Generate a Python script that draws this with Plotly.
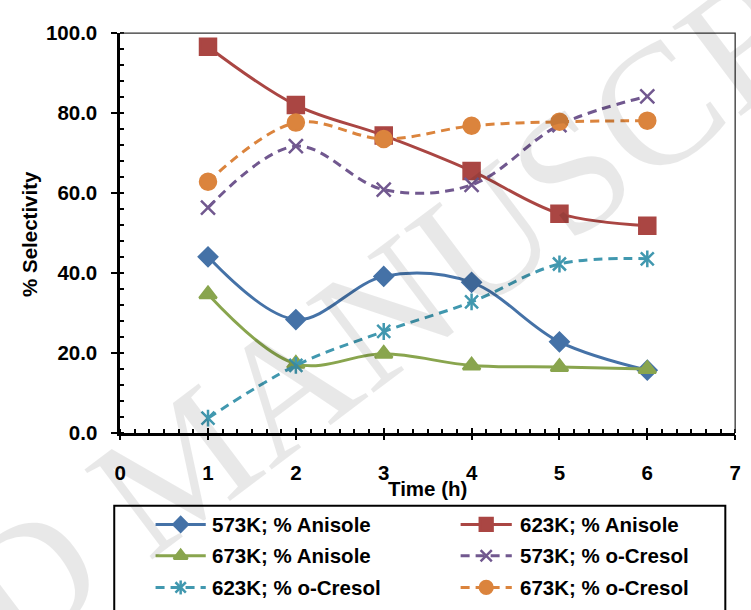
import plotly.graph_objects as go

# ---- data -------------------------------------------------------------
time_h = [1, 2, 3, 4, 5, 6]

anisole_573 = [44.0, 28.3, 39.1, 37.6, 22.7, 15.6]
anisole_623 = [96.6, 82.0, 74.4, 65.5, 54.8, 51.8]
anisole_673 = [34.6, 17.2, 19.7, 16.8, 16.4, 15.9]
cresol_573 = [56.3, 71.7, 60.8, 62.0, 77.0, 84.2]
cresol_623 = [3.6, 16.8, 25.3, 32.7, 42.2, 43.5]
cresol_673 = [62.8, 77.6, 73.5, 76.8, 77.8, 78.1]

series_names = [
    "573K; % Anisole", "623K; % Anisole",
    "673K; % Anisole", "573K; % o-Cresol",
    "623K; % o-Cresol", "673K; % o-Cresol",
]
series_values = [anisole_573, anisole_623, anisole_673,
                 cresol_573, cresol_623, cresol_673]

x_ticks = [0, 1, 2, 3, 4, 5, 6, 7]
y_ticks = [0, 20, 40, 60, 80, 100]

# ---- styling ------------------------------------------------------------
W, H = 751, 610
colors = ["#4572A7", "#AA4643", "#89A54E", "#71588F", "#4198AF", "#DB843D"]
symbols = ["diamond", "square", "triangle-up", "x-thin", "x-thin", "circle"]
sizes = [14, 16, 15, 14, 13, 16]
# the 623K o-Cresol star gets an extra vertical bar on top of its "x"
star_bar = [False, False, False, False, True, False]
dashes = ["solid", "solid", "solid", "9px,6px", "9px,6px", "9px,6px"]

# plot box in pixels
PL, PR, PT, PB = 116, 741, 22, 437

def px(x):
    return x / W

def py(y):
    return 1 - y / H

FONT = "Liberation Sans, Arial, sans-serif"
FS = 20.5

fig = go.Figure()

for name, vals, c, sym, sz, dsh, bar in zip(series_names, series_values, colors,
                                              symbols, sizes, dashes, star_bar):
    fig.add_trace(go.Scatter(
        x=time_h, y=vals, name=name, mode="lines+markers",
        line=dict(color=c, width=3, dash=dsh, shape="spline", smoothing=1),
        marker=dict(symbol=sym, size=sz, color=c, opacity=1,
                    line=dict(color=c, width=2.5)),
        showlegend=False, xaxis="x", yaxis="y",
    ))
    if bar:
        fig.add_trace(go.Scatter(
            x=time_h, y=vals, mode="markers", hoverinfo="skip",
            marker=dict(symbol="line-ns", size=12, color=c,
                        line=dict(color=c, width=2.5)),
            showlegend=False, xaxis="x", yaxis="y",
        ))

# ---- custom legend (drawn on a pixel-unit helper axis) ------------------
leg_rows = [532.5, 565, 598]
leg_cols = [(152, 203, 207), (462, 514, 520)]
for i, (name, c, sym, sz, dsh, bar) in enumerate(zip(series_names, colors,
                                                      symbols, sizes, dashes,
                                                      star_bar)):
    r, col = divmod(i, 2)
    x0, x1, tx = leg_cols[col]
    yy = leg_rows[r]
    xm = (x0 + x1) / 2
    fig.add_trace(go.Scatter(
        x=[x0, x1], y=[yy, yy], mode="lines",
        line=dict(color=c, width=3, dash=dsh),
        showlegend=False, hoverinfo="skip", xaxis="x3", yaxis="y3",
    ))
    fig.add_trace(go.Scatter(
        x=[xm], y=[yy], mode="markers",
        marker=dict(symbol=sym, size=sz * 0.8, color=c, opacity=1,
                    line=dict(color=c, width=2.5)),
        showlegend=False, hoverinfo="skip", xaxis="x3", yaxis="y3",
    ))
    if bar:
        fig.add_trace(go.Scatter(
            x=[xm], y=[yy], mode="markers",
            marker=dict(symbol="line-ns", size=10, color=c,
                        line=dict(color=c, width=2.5)),
            showlegend=False, hoverinfo="skip", xaxis="x3", yaxis="y3",
        ))
    fig.add_annotation(x=px(tx), y=py(yy), xref="paper", yref="paper",
                       text=name, showarrow=False, xanchor="left",
                       yanchor="middle",
                       font=dict(family=FONT, size=FS, color="black",
                                 weight="bold"))

# legend frame (bottom edge falls outside the page)
fig.add_shape(type="rect", xref="paper", yref="paper",
              x0=px(110), x1=px(731), y0=py(640), y1=py(513),
              line=dict(color="black", width=2))

# thin top/right frame of the plot box
fig.add_shape(type="path", xref="paper", yref="paper",
              path=f"M {px(PL)} {py(PT)} L {px(PR)} {py(PT)} L {px(PR)} {py(PB)}",
              line=dict(color="#333333", width=1.3))

# axis titles
fig.add_annotation(x=px(24), y=py(231), xref="paper", yref="paper",
                   text="% Selectivity", textangle=-90, showarrow=False,
                   xanchor="center", yanchor="middle",
                   font=dict(family=FONT, size=FS, color="black", weight="bold"))
fig.add_annotation(x=px(428), y=py(495), xref="paper", yref="paper",
                   text="Time (h)", showarrow=False,
                   xanchor="center", yanchor="middle",
                   font=dict(family=FONT, size=FS, color="black", weight="bold"))

# watermark
fig.add_annotation(x=px(181), y=py(469), xref="paper", yref="paper",
                   text="ACCEPTED MANUSCRIPT", textangle=-37, showarrow=False,
                   xanchor="center", yanchor="middle",
                   font=dict(family="Liberation Serif, Times New Roman, serif",
                             size=172, color="rgba(0,0,0,0.09)"))

xdom = [px(PL), px(PR)]
ydom = [py(PB), py(PT)]
tickfont = dict(family=FONT, size=FS, color="black", weight="bold")

fig.update_layout(
    width=W, height=H, margin=dict(l=0, r=0, t=0, b=0),
    paper_bgcolor="white", plot_bgcolor="rgba(0,0,0,0)",
    showlegend=False,
    xaxis=dict(domain=xdom, range=[0, 7], tickvals=x_ticks,
               ticktext=[str(v) for v in x_ticks],
               ticks="outside", ticklen=5, tickwidth=2, tickcolor="black",
               minor=dict(dtick=1 / 6, tick0=0, ticks="inside", ticklen=4,
                          tickwidth=2, tickcolor="black"),
               showline=True, linecolor="black", linewidth=2.5,
               showgrid=False, zeroline=False, tickfont=tickfont,
               ticklabelstandoff=15, anchor="y"),
    yaxis=dict(domain=ydom, range=[0, 100], tickvals=y_ticks,
               tickformat=".1f",
               ticks="outside", ticklen=6, tickwidth=2, tickcolor="black",
               minor=dict(dtick=4, tick0=0, ticks="inside", ticklen=4,
                          tickwidth=2, tickcolor="black"),
               showline=True, linecolor="black", linewidth=2.5,
               showgrid=False, zeroline=False, tickfont=tickfont,
               ticklabelstandoff=10, anchor="x"),
    # inner halves of the crossing major ticks
    xaxis2=dict(domain=xdom, range=[0, 7], overlaying="x", anchor="y",
                tickvals=x_ticks, ticks="inside", ticklen=5, tickwidth=2,
                tickcolor="black", showticklabels=False, showline=False,
                showgrid=False, zeroline=False),
    yaxis2=dict(domain=ydom, range=[0, 100], overlaying="y", anchor="x",
                side="left", tickvals=y_ticks, ticks="inside", ticklen=4,
                tickwidth=2, tickcolor="black", showticklabels=False,
                showline=False, showgrid=False, zeroline=False),
    # helper axes in pixel units for the legend samples
    xaxis3=dict(domain=[0, 1], range=[0, W], visible=False, anchor="y3"),
    yaxis3=dict(domain=[0, 1], range=[H, 0], visible=False, anchor="x3"),
)

# empty trace so the overlay tick axes are drawn
fig.add_trace(go.Scatter(x=[None], y=[None], xaxis="x2", yaxis="y2",
                         showlegend=False, hoverinfo="skip"))

fig.write_html("out.html")
